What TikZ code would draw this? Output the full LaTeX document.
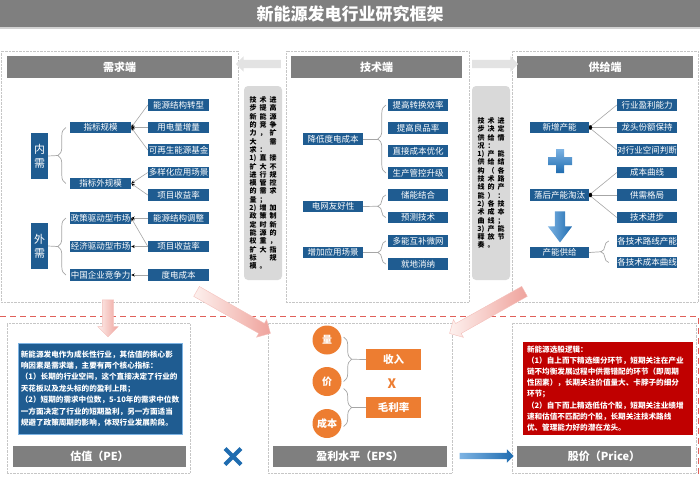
\documentclass[tikz,border=0pt]{standalone}
\usepackage{fontspec}
\setmainfont{Noto Sans CJK SC}
\usetikzlibrary{positioning, arrows.meta, shapes.arrows, decorations.pathreplacing, calc}

\definecolor{barGray}{HTML}{7F7F7F}
\definecolor{boxBlue}{HTML}{1F5C91}
\definecolor{noteGray}{HTML}{D9D9D9}
\definecolor{lineGray}{HTML}{A6A6A6}
\definecolor{accOrange}{HTML}{ED7D31}
\definecolor{accRed}{HTML}{C00000}
\definecolor{pinkLight}{HTML}{FDF0EE}
\definecolor{pinkDark}{HTML}{EFA39C}
\definecolor{skyBlue}{HTML}{7DB3E3}
\definecolor{deepBlue}{HTML}{1F6CB0}
\definecolor{cutRed}{HTML}{E0605A}

% one row of the narrow vertical notes
\newcommand{\vrow}[3]{\makebox[10pt]{#1}\makebox[10pt]{#2}\makebox[10pt]{#3}}

\begin{document}
\begin{tikzpicture}[
		x=1pt, y=-1pt,
		titlebar/.style={
			fill=barGray,
			text=white,
			minimum width=700pt,
			minimum height=28pt,
			inner sep=0pt,
			font=\bfseries\fontsize{17}{19}\selectfont
		},
		panel/.style={
			draw=gray!45,
			densely dotted,
			inner sep=0pt
		},
		hdr/.style={
			fill=barGray,
			text=white,
			minimum height=22pt,
			inner sep=0pt,
			font=\bfseries\fontsize{11}{13}\selectfont
		},
		item/.style={
			fill=boxBlue,
			text=white,
			minimum width=61pt,
			minimum height=11.5pt,
			inner sep=0pt,
			font=\fontsize{8.5}{9}\selectfont
		},
		side/.style={
			fill=boxBlue,
			text=white,
			minimum width=17pt,
			minimum height=46pt,
			inner sep=0pt,
			align=center,
			font=\fontsize{11}{14}\selectfont
		},
		note/.style={
			fill=noteGray,
			rounded corners=4pt,
			minimum width=38pt,
			minimum height=194pt,
			inner sep=0pt,
			align=left,
			font=\bfseries\fontsize{7}{8.3}\selectfont
		},
		link/.style={
			draw=lineGray,
			line width=0.6pt,
			-{Stealth[length=3.5pt, width=3pt, color=black]}
		},
		joint/.style={
			draw=lineGray,
			line width=0.6pt,
			-{Circle[length=3pt, color=black]}
		},
		brc/.style={
			draw=lineGray,
			line width=0.7pt,
			decorate,
			decoration={brace, amplitude=8pt}
		},
		tie/.style={
			draw=lineGray,
			line width=0.7pt
		},
		textbox/.style={
			text=white,
			inner sep=0pt,
			align=left,
			font=\bfseries\fontsize{7.6}{11.4}\selectfont
		},
		lab/.style={
			fill=barGray,
			text=white,
			minimum width=174pt,
			minimum height=21pt,
			inner sep=0pt,
			font=\bfseries\fontsize{11}{13}\selectfont
		},
		dot/.style={
			circle,
			fill=accOrange,
			text=white,
			minimum size=29pt,
			inner sep=0pt,
			font=\bfseries\fontsize{10}{12}\selectfont
		},
		obox/.style={
			fill=accOrange,
			text=white,
			minimum width=55pt,
			minimum height=21pt,
			inner sep=0pt,
			font=\bfseries\fontsize{10.5}{12}\selectfont
		},
		pinkarrow/.style={
			single arrow,
			draw=pinkDark!70,
			line width=0.4pt,
			left color=pinkLight,
			right color=pinkDark,
			inner xsep=0pt,
			inner ysep=5.5pt,
			single arrow head extend=4.5pt
		},
		greyarrow/.style={
			single arrow,
			fill=gray!22,
			inner xsep=0pt,
			inner ysep=4pt,
			single arrow head extend=3.5pt
		},
		bluearrow/.style={
			single arrow,
			left color=skyBlue,
			right color=deepBlue,
			inner xsep=0pt,
			inner ysep=3pt,
			single arrow head extend=3.5pt
		},
		cutline/.style={
			draw=cutRed,
			line width=1pt,
			dash pattern=on 6pt off 4pt
		}
		]
		\useasboundingbox (0,0) rectangle (700,477);
		% Title
		\node[titlebar] (title) at (350,14) {新能源发电行业研究框架};
		\draw[gray!35, line width=1.5pt] (title.south west) -- (title.south east);
		% Panels
		\node[panel, minimum width=237pt, minimum height=251pt] (dem) at (119.5,176.5) {};
		\node[panel, minimum width=183pt, minimum height=251pt] (tech) at (377.5,176.5) {};
		\node[panel, minimum width=186pt, minimum height=251pt] (sup) at (605,176.5) {};
		\node[hdr, minimum width=225pt] (dem-hdr) at (119.5,67) {需求端};
		\node[hdr, minimum width=171pt] (tech-hdr) at (376.5,67) {技术端};
		\node[hdr, minimum width=176pt] (sup-hdr) at (605,67) {供给端};
		\node[greyarrow, rotate=180, minimum height=45pt] (back-l) at (260.5,64) {};
		\node[greyarrow, minimum height=46pt] (fwd-r) at (493,64) {};
		% Demand side
		\node[side] (nx) at (39.5,156) {内\\需};
		\node[side] (wx) at (39.5,246) {外\\需};
		\node[item] (zb) at (100.5,127.5) {指标规模};
		\node[item] (zbw) at (100.5,183.5) {指标外规模};
		\node[item] (zc) at (100.5,218) {政策驱动型市场};
		\node[item] (jj) at (100.5,246.5) {经济驱动型市场};
		\node[item] (qy) at (100.5,275) {中国企业竞争力};
		\node[item] (d1) at (178.5,105) {能源结构转型};
		\node[item] (d2) at (178.5,127.5) {用电量增量};
		\node[item] (d3) at (178.5,150) {可再生能源基金};
		\node[item] (d4) at (178.5,172.5) {多样化应用场景};
		\node[item] (d5) at (178.5,195) {项目收益率};
		\node[item] (d6) at (178.5,218) {能源结构调整};
		\node[item] (d7) at (178.5,246.5) {项目收益率};
		\node[item] (d8) at (178.5,275) {度电成本};
		\draw[brc] ($(zbw.west)+(-4,0)$) -- ($(zb.west)+(-4,0)$);
		\draw[tie] (nx.east) -- ($(zb.west)!0.5!(zbw.west)+(-12,0)$);
		\draw[brc] ($(qy.west)+(-4,0)$) -- ($(zc.west)+(-4,0)$);
		\draw[tie] (wx.east) -- ($(zc.west)!0.5!(qy.west)+(-12,0)$);
		\draw[link] (d1.west) -- (zb.east);
		\draw[link] (d2.west) -- (zb.east);
		\draw[link] (d3.west) -- (zb.east);
		\draw[link] (d4.west) -- (zbw.east);
		\draw[link] (d5.west) -- (zbw.east);
		\draw[link] (d6.west) -- (zc.east);
		\draw[link] (d7.west) -- (zc.east);
		\draw[link] (d7.west) -- (jj.east);
		\draw[link] (d8.west) -- (qy.east);
		% Technology side
		\node[note] (push-l) at (263,183) {%
			\vrow{技}{术}{进}\\ \vrow{步}{提}{高}\\ \vrow{新}{能}{源}\\
			\vrow{的}{竞}{争}\\ \vrow{力}{，}{扩}\\ \vrow{大}{}{需}\\
			\vrow{求}{：}{}\\ \vrow{1)}{直}{接}\\ \vrow{扩}{大}{不}\\
			\vrow{进}{行}{规}\\ \vrow{模}{管}{控}\\ \vrow{的}{需}{求}\\
			\vrow{量}{；}{}\\ \vrow{2)}{增}{加}\\ \vrow{政}{策}{制}\\
			\vrow{定}{时}{新}\\ \vrow{能}{源}{的}\\ \vrow{权}{重}{，}\\
			\vrow{扩}{大}{指}\\ \vrow{标}{}{规}\\ \vrow{模}{。}{}};
		\node[note] (push-r) at (491,183) {%
			\vrow{技}{术}{进}\\ \vrow{步}{决}{定}\\ \vrow{供}{给}{情}\\
			\vrow{况}{：}{}\\ \vrow{1)}{产}{能}\\ \vrow{供}{给}{结}\\
			\vrow{构}{（}{各}\\ \vrow{技}{术}{路}\\ \vrow{线}{的}{产}\\
			\vrow{能}{）}{：}\\ \vrow{2)}{各}{技}\\ \vrow{术}{成}{本}\\
			\vrow{曲}{线}{；}\\ \vrow{3)}{产}{能}\\ \vrow{释}{放}{节}\\
			\vrow{奏}{。}{}};
		\node[item, minimum width=60pt] (t1) at (333,139) {降低度电成本};
		\node[item, minimum width=60pt] (t2) at (333,206.5) {电网友好性};
		\node[item, minimum width=60pt] (t3) at (333,252.5) {增加应用场景};
		\node[item, minimum width=60pt] (s1) at (418,105) {提高转换效率};
		\node[item, minimum width=60pt] (s2) at (418,128) {提高良品率};
		\node[item, minimum width=60pt] (s3) at (418,151) {直接成本优化};
		\node[item, minimum width=60pt] (s4) at (418,173) {生产管控升级};
		\node[item, minimum width=60pt] (s5) at (418,195) {储能结合};
		\node[item, minimum width=60pt] (s6) at (418,217.5) {预测技术};
		\node[item, minimum width=60pt] (s7) at (418,241) {多能互补微网};
		\node[item, minimum width=60pt] (s8) at (418,264) {就地消纳};
		\draw[brc] ($(s4.west)+(-2,0)$) -- ($(s1.west)+(-2,0)$);
		\draw[tie] (t1.east) -- ($(s1.west)!0.5!(s4.west)+(-10,0)$);
		\draw[brc] ($(s6.west)+(-2,0)$) -- ($(s5.west)+(-2,0)$);
		\draw[tie] (t2.east) -- ($(s5.west)!0.5!(s6.west)+(-10,0)$);
		\draw[brc] ($(s8.west)+(-2,0)$) -- ($(s7.west)+(-2,0)$);
		\draw[tie] (t3.east) -- ($(s7.west)!0.5!(s8.west)+(-10,0)$);
		% Supply side
		\node[item, minimum width=59pt] (g1) at (559.5,127.5) {新增产能};
		\node[item, minimum width=59pt] (g2) at (559.5,195) {落后产能淘汰};
		\node[item, minimum width=59pt] (g3) at (559.5,252.5) {产能供给};
		\node[item, minimum width=60pt] (h1) at (647,105) {行业盈利能力};
		\node[item, minimum width=60pt] (h2) at (647,127.5) {龙头份额保持};
		\node[item, minimum width=60pt] (h3) at (647,150) {对行业空间判断};
		\node[item, minimum width=60pt] (h4) at (647,172.5) {成本曲线};
		\node[item, minimum width=60pt] (h5) at (647,195) {供需格局};
		\node[item, minimum width=60pt] (h6) at (647,217.5) {技术进步};
		\node[item, minimum width=60pt] (h7) at (647,241) {各技术路线产能};
		\node[item, minimum width=60pt] (h8) at (647,262.5) {各技术成本曲线};
		\draw[joint] (h1.west) -- (g1.east);
		\draw[joint] (h2.west) -- (g1.east);
		\draw[joint] (h3.west) -- (g1.east);
		\draw[joint] (h4.west) -- (g2.east);
		\draw[joint] (h5.west) -- (g2.east);
		\draw[joint] (h6.west) -- (g2.east);
		\draw[brc] ($(h8.west)+(-8,0)$) -- ($(h7.west)+(-8,0)$);
		\draw[tie] (g3.east) -- ($(h7.west)!0.5!(h8.west)+(-16,0)$);
		\shade[top color=skyBlue, bottom color=deepBlue]
			(548,157) -- (556,157) -- (556,149) -- (564,149) -- (564,157) -- (572,157)
			-- (572,165) -- (564,165) -- (564,173) -- (556,173) -- (556,165) -- (548,165) -- cycle;
		\node[bluearrow, rotate=-90, minimum height=31pt, inner ysep=5pt,
			single arrow head extend=7pt, single arrow tip angle=74] (cut-down) at (560,223.5) {};
		% Cut line and flows
		\draw[cutline] (0,316) -- (698,316) -- (698,477);
		\node[panel, minimum width=183pt, minimum height=150pt] (pe) at (98.5,398) {};
		\node[panel, minimum width=184pt, minimum height=150pt] (eps) at (360,398) {};
		\node[panel, minimum width=184pt, minimum height=150pt] (price) at (604,398) {};
		\node[pinkarrow, rotate=-90, minimum height=37pt] (down-pe) at (108,315.5) {};
		\node[pinkarrow, rotate=-29.6, minimum height=85pt] (to-eps-l) at (231,311) {};
		\node[pinkarrow, rotate=-150.7, minimum height=86pt] (to-eps-r) at (489.5,311) {};
		% Valuation
		\node[textbox, fill=boxBlue, draw=skyBlue, line width=0.6pt,
			minimum width=164pt, minimum height=91pt] (pe-text) at (100,388.5)
		{新能源发电作为成长性行业，其估值的核心影\\
			响因素是需求端，主要有两个核心指标：\\
			（1）长期的行业空间，这个直接决定了行业的\\
			天花板以及龙头标的的盈利上限；\\
			（2）短期的需求中位数，5-10年的需求中位数\\
			一方面决定了行业的短期盈利，另一方面适当\\
			规避了政策周期的影响，体现行业发展阶段。};
		\node[lab, minimum width=173pt] (pe-lab) at (99.5,456.5) {估值（PE）};
		\draw[deepBlue, line width=4pt] (225,448.5) -- (241,464.5) (241,448.5) -- (225,464.5);
		% Earnings
		\node[dot] (q1) at (327,340) {量};
		\node[dot] (q2) at (327,381.5) {价};
		\node[dot] (q3) at (327,423.5) {成本};
		\node[obox] (in1) at (393.5,359.5) {收入};
		\node[obox] (ml) at (393.5,407.5) {毛利率};
		\node[text=accOrange, font=\bfseries\fontsize{13}{14}\selectfont] (times) at (392,384) {X};
		\draw[brc] ($(q1.east)+(2,-3)$) -- ($(q2.east)+(2,0)$);
		\draw[tie] ($(q1.east)!0.5!(q2.east)+(10,-1.5)$) -- (in1.west);
		\draw[brc] ($(q2.east)+(2,7)$) -- ($(q3.east)+(2,3)$);
		\draw[tie] ($(q2.east)!0.5!(q3.east)+(10,5)$) -- (ml.west);
		\node[lab] (eps-lab) at (360,456.5) {盈利水平（EPS）};
		\node[bluearrow, minimum height=54pt] (to-price) at (485,456) {};
		% Share price
		\node[textbox, fill=accRed, minimum width=170pt, minimum height=93pt,
			text width=162pt, font=\bfseries\fontsize{7.6}{11.1}\selectfont] (price-text) at (608,388.5)
		{新能源选股逻辑：\\
			（1）自上而下精选细分环节，短期关注在产业\\
			链不均衡发展过程中供需错配的环节（即周期\\
			性因素），长期关注价值量大、卡脖子的细分\\
			环节；\\
			（2）自下而上精选低估个股，短期关注业绩增\\
			速和估值不匹配的个股，长期关注技术路线\\
			优、管理能力好的潜在龙头。};
		\node[lab] (price-lab) at (604,456.5) {股价（Price）};
	\end{tikzpicture}
\end{document}
